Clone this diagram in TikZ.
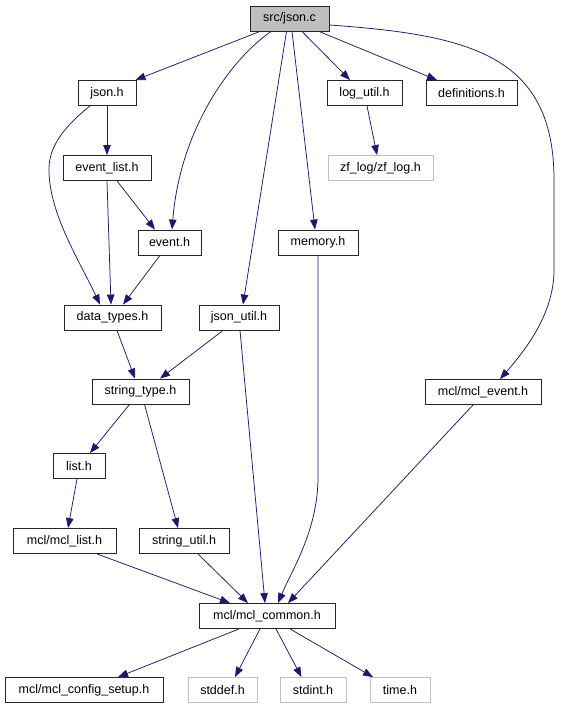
\documentclass[tikz,border=0pt]{standalone}
\usepackage{fontspec}
\setmainfont{Liberation Sans}
\usetikzlibrary{arrows.meta}
\definecolor{edgec}{HTML}{191970}
\definecolor{grayb}{HTML}{BFBFBF}
\begin{document}
\begin{tikzpicture}[x=1pt,y=-1pt,
  box/.style={draw=black!85,line width=0.9pt,fill=white,minimum height=25pt,inner sep=0pt,font=\fontsize{12.5}{13}\selectfont},
  ext/.style={box,draw=grayb},
  edge/.style={draw=edgec,line width=0.75pt,-{Triangle[length=10pt,width=7.5pt]}}]
\useasboundingbox (0,0) rectangle (560,709);
\fill[white] (0,0) rectangle (560,709);
% nodes
\node[box,fill=grayb,minimum width=79pt] (jsonc) at (289.5,18.5) {src/json.c};
\node[box,minimum width=58pt] (jsonh) at (107,93) {json.h};
\node[box,minimum width=75pt] (logutil) at (364.5,93) {log\_util.h};
\node[box,minimum width=91pt] (defs) at (471.5,93) {definitions.h};
\node[box,minimum width=88pt] (eventlist) at (107,168) {event\_list.h};
\node[ext,minimum width=105pt] (zflog) at (380.5,168) {zf\_log/zf\_log.h};
\node[box,minimum width=63pt] (event) at (169.5,242.5) {event.h};
\node[box,minimum width=80pt] (memory) at (318,242.5) {memory.h};
\node[box,minimum width=97pt] (datatypes) at (112.5,317.5) {data\_types.h};
\node[box,minimum width=80pt] (jsonutil) at (239,317.5) {json\_util.h};
\node[box,minimum width=97pt] (stringtype) at (140.5,391.5) {string\_type.h};
\node[box,minimum width=116pt] (mclevent) at (483,392) {mcl/mcl\_event.h};
\node[box,minimum width=52pt] (list) at (79,466) {list.h};
\node[box,minimum width=103pt] (mcllist) at (64.5,541) {mcl/mcl\_list.h};
\node[box,minimum width=90pt] (stringutil) at (184,541) {string\_util.h};
\node[box,minimum width=136pt] (mclcommon) at (267,616) {mcl/mcl\_common.h};
\node[box,minimum width=158pt] (config) at (84,690) {mcl/mcl\_config\_setup.h};
\node[ext,minimum width=69pt] (stddef) at (222.5,690) {stddef.h};
\node[ext,minimum width=66pt] (stdint) at (313,690) {stdint.h};
\node[ext,minimum width=60pt] (timeh) at (400,690) {time.h};
% edges
\draw[edge] ([xshift=-29.5pt]jsonc.south) -- ([xshift=-1pt]jsonh.north east);
\draw[edge] ([xshift=-18.5pt]jsonc.south) .. controls (230,60) and (180,130) .. ([xshift=2.5pt]event.north);
\draw[edge] ([xshift=-3pt]jsonc.south) -- ([xshift=4pt]jsonutil.north);
\draw[edge] ([xshift=2.5pt]jsonc.south) -- ([xshift=-3pt]memory.north);
\draw[edge] ([xshift=12.5pt]jsonc.south) -- ([xshift=-14.5pt]logutil.north);
\draw[edge] ([xshift=29.5pt]jsonc.south) -- ([xshift=-34.5pt]defs.north);
\draw[edge] ([yshift=-6.5pt]jsonc.east) .. controls (470,35) and (554,55) .. (554,180) -- (554,270) .. controls (554,310) and (530,345) .. ([xshift=17pt]mclevent.north);
\draw[edge] ([xshift=2.5pt]logutil.south) -- ([xshift=-3.5pt]zflog.north);
\draw[edge] (jsonh.south) -- (eventlist.north);
\draw[edge] ([xshift=-17pt]jsonh.south) .. controls (60,130) and (48,150) .. (49,172) .. controls (50,215) and (80,262) .. ([xshift=-12.5pt]datatypes.north);
\draw[edge] (eventlist.south) -- ([xshift=-1.5pt]datatypes.north);
\draw[edge] ([xshift=10pt]eventlist.south) -- ([xshift=-14.5pt]event.north);
\draw[edge] ([xshift=-9.5pt]event.south) -- ([xshift=10.5pt]datatypes.north);
\draw[edge] ([xshift=4.5pt]datatypes.south) -- ([xshift=-5.5pt]stringtype.north);
\draw[edge] ([xshift=-16pt]jsonutil.south) -- ([xshift=19.5pt]stringtype.north);
\draw[edge] ([xshift=1pt]jsonutil.south) -- ([xshift=-2pt]mclcommon.north);
\draw[edge] (memory.south) -- (318,477) .. controls (318,530) and (292,570) .. ([xshift=11pt]mclcommon.north);
\draw[edge] ([xshift=-10pt]mclevent.south) -- ([xshift=21pt]mclcommon.north);
\draw[edge] ([xshift=-11pt]stringtype.south) -- ([xshift=11pt]list.north);
\draw[edge] ([xshift=4pt]stringtype.south) -- ([xshift=-6pt]stringutil.north);
\draw[edge] ([xshift=-2pt]list.south) -- ([xshift=3.5pt]mcllist.north);
\draw[edge] ([xshift=32.5pt]mcllist.south) -- ([xshift=-37pt]mclcommon.north);
\draw[edge] ([xshift=14pt]stringutil.south) -- ([xshift=-19pt]mclcommon.north);
\draw[edge] ([xshift=-28pt]mclcommon.south) -- ([xshift=34pt]config.north);
\draw[edge] ([xshift=-7pt]mclcommon.south) -- ([xshift=12.5pt]stddef.north);
\draw[edge] ([xshift=9pt]mclcommon.south) -- ([xshift=-11.5pt]stdint.north);
\draw[edge] ([xshift=23pt]mclcommon.south) -- ([xshift=-27pt]timeh.north);
\end{tikzpicture}
\end{document}
